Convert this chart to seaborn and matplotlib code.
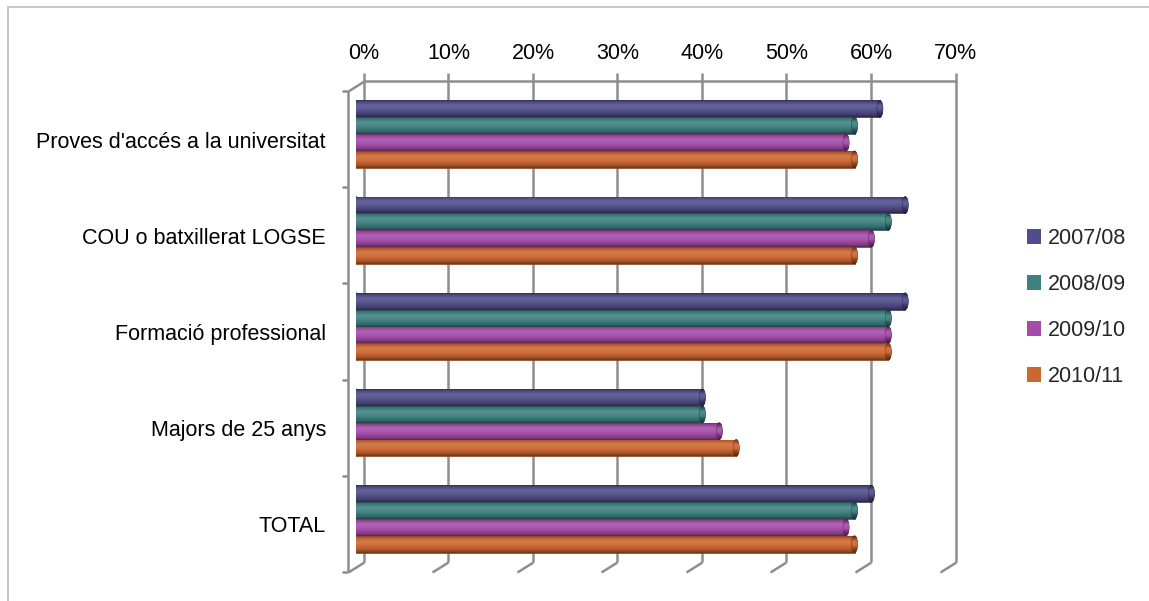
import numpy as np
import pandas as pd
import matplotlib
matplotlib.use("Agg")
import matplotlib.pyplot as plt
import seaborn as sns
from matplotlib import font_manager
from matplotlib.transforms import ScaledTranslation, blended_transform_factory
from matplotlib.patches import Ellipse, Rectangle, Patch
from matplotlib.path import Path
from matplotlib.colors import LinearSegmentedColormap, to_rgb
from matplotlib.markers import TICKLEFT

# ---- data -------------------------------------------------------------
categories = [
    "Proves d'accés a la universitat",
    "COU o batxillerat LOGSE",
    "Formació professional",
    "Majors de 25 anys",
    "TOTAL",
]
years = ["2007/08", "2008/09", "2009/10", "2010/11"]
v_2007_08 = [62, 65, 65, 41, 61]
v_2008_09 = [59, 63, 63, 41, 59]
v_2009_10 = [58, 61, 63, 43, 58]
v_2010_11 = [59, 59, 63, 45, 59]
x_ticks = [0, 10, 20, 30, 40, 50, 60, 70]
x_tick_labels = ["0%", "10%", "20%", "30%", "40%", "50%", "60%", "70%"]
colors = ["#514D8B", "#3E8080", "#A54BA8", "#CD6630"]

series = [v_2007_08, v_2008_09, v_2009_10, v_2010_11]
df = pd.DataFrame(
    [(c, y, v) for y, vals in zip(years, series) for c, v in zip(categories, vals)],
    columns=["categoria", "curs", "valor"],
)

# ---- fonts ------------------------------------------------------------
sns.set_theme(style="white")
available = {f.name for f in font_manager.fontManager.ttflist}
if "Liberation Sans Narrow" in available:
    family, fs = "Liberation Sans Narrow", 18.5
else:
    family, fs = "Liberation Sans", 15.5
plt.rcParams["font.family"] = [family, "DejaVu Sans"]

DPI = 100
W, H = 1149, 601
fig = plt.figure(figsize=(W / DPI, H / DPI), dpi=DPI)

# axes span the plane in which the cylinders sit (mid-depth of the 3D box)
ax_l, ax_r, ax_t, ax_b = 356, 947.5, 86, 567
ax = fig.add_axes([ax_l / W, (H - ax_b) / H, (ax_r - ax_l) / W, (ax_b - ax_t) / H])

sns.barplot(
    data=df, x="valor", y="categoria", hue="curs", orient="h",
    order=categories, hue_order=years, palette=colors, saturation=1,
    width=0.7, dodge=True, legend=False, ax=ax, linewidth=0, edgecolor="none",
    errorbar=None,
)
ax.set_xlim(0, 70)
ax.set_ylim(len(categories) - 0.5, -0.5)
ax.set_autoscale_on(False)
ax.set_axis_off()

px = 1 / DPI


def shift(dx, dy):
    return ScaledTranslation(dx * px, dy * px, fig.dpi_scale_trans)


back = shift(8, 5)
front = shift(-8, -5)
xb = blended_transform_factory(ax.transData, ax.transAxes)
yb = blended_transform_factory(ax.transAxes, ax.transData)

grid_color = "#8E8E8E"
grid_lw = 1.8
axes_h_px = ax_b - ax_t

# back wall: vertical gridlines (with small ticks above) and top edge
for v in x_ticks:
    ax.plot([v, v], [0, 1 + 8 / axes_h_px], transform=xb + back, color=grid_color,
            lw=grid_lw, clip_on=False, zorder=1, solid_capstyle="butt")
ax.plot([x_ticks[0], x_ticks[-1]], [1, 1], transform=xb + back, color=grid_color,
        lw=grid_lw, clip_on=False, zorder=1)

# floor diagonals and top-left corner diagonal
diag = Path([(8, 5), (-8, -5)], [Path.MOVETO, Path.LINETO])
ax.plot(x_ticks, [0] * len(x_ticks), transform=xb, linestyle="none", marker=diag,
        markersize=16 / 1.389, markeredgecolor=grid_color, markeredgewidth=grid_lw,
        clip_on=False, zorder=1)
ax.plot([0], [1], transform=xb, linestyle="none", marker=diag,
        markersize=16 / 1.389, markeredgecolor=grid_color, markeredgewidth=grid_lw,
        clip_on=False, zorder=1)

# left (front) wall edge with category separators
ax.plot([0, 0], [0, 1], transform=xb + front, color=grid_color, lw=grid_lw,
        clip_on=False, zorder=1, solid_capstyle="butt")
bounds = np.arange(len(categories) + 1) - 0.5
ax.plot(np.zeros_like(bounds), bounds, transform=ax.transData + front,
        linestyle="none", marker=TICKLEFT, markersize=6 / 1.389,
        markeredgecolor=grid_color, markeredgewidth=grid_lw, clip_on=False, zorder=1)


# ---- cylinder shading ---------------------------------------------------
def shade(color, f):
    r, g, b = to_rgb(color)
    if f >= 1:
        return tuple(min(1.0, c + (1 - c) * (f - 1)) for c in (r, g, b))
    return tuple(c * f for c in (r, g, b))


def cylinder_cmap(color, k=1.0):
    stops = [(0.0, 0.62), (0.10, 0.92), (0.32, 1.14), (0.55, 1.05),
             (0.80, 0.86), (0.93, 0.68), (1.0, 0.50)]
    return LinearSegmentedColormap.from_list(
        "cyl", [(p, shade(color, f * k if f < 1 else 1 + (f - 1) * k)) for p, f in stops])


grad = np.linspace(0, 1, 96).reshape(-1, 1)
cap_w = 6 / ((ax_r - ax_l) / 70)

for container, color in zip(ax.containers, colors):
    cmap = cylinder_cmap(color)
    cap_cmap = cylinder_cmap(color, 0.7)
    edge = shade(color, 0.6)
    for rect in container:
        x0, y0, w, h = rect.get_x(), rect.get_y(), rect.get_width(), rect.get_height()
        rect.set_zorder(3)
        rect.set_edgecolor(edge)
        rect.set_linewidth(0.5)
        im = ax.imshow(grad, cmap=cmap, extent=[x0, x0 + w, y0 + h, y0],
                       aspect="auto", interpolation="bilinear", zorder=3.1)
        im.set_clip_path(rect)
        # rounded base of the cylinder
        base = Ellipse((x0, y0 + h / 2), cap_w, h, facecolor=color, edgecolor=edge,
                       linewidth=0.5, zorder=2.9)
        ax.add_patch(base)
        imb = ax.imshow(grad, cmap=cmap, extent=[x0 - cap_w, x0 + cap_w, y0 + h, y0],
                        aspect="auto", interpolation="bilinear", zorder=2.95)
        imb.set_clip_path(base)
        # end cap
        cap = Ellipse((x0 + w, y0 + h / 2), cap_w, h, facecolor=edge, edgecolor=shade(color, 0.45),
                      linewidth=0.5, zorder=4)
        ax.add_patch(cap)
        imc = ax.imshow(grad, cmap=cap_cmap, extent=[x0 + w - cap_w, x0 + w + cap_w, y0 + h, y0],
                        aspect="auto", interpolation="bilinear", zorder=4.1)
        imc.set_clip_path(cap)

ax.set_xlim(0, 70)
ax.set_ylim(len(categories) - 0.5, -0.5)

# ---- text ---------------------------------------------------------------
for v, lab in zip(x_ticks, x_tick_labels):
    ax.text(v, 1, lab, transform=xb + shift(8, 27), ha="center", va="baseline",
            fontsize=fs, color="black", clip_on=False)

for i, cat in enumerate(categories):
    ax.text(0, i, cat, transform=yb + shift(-30, -8), ha="right", va="center",
            fontsize=fs, color="black", clip_on=False)

fs_px = fs * DPI / 72
handles = [Patch(facecolor=c, edgecolor="none", label=y) for c, y in zip(colors, years)]
fig.legend(handles=handles, loc="center left",
           bbox_to_anchor=(1027 / W, (H - 307.5) / H), bbox_transform=fig.transFigure,
           frameon=False, borderpad=0, borderaxespad=0,
           handlelength=14 / fs_px, handleheight=14 / fs_px,
           handletextpad=7 / fs_px, labelspacing=1.16, fontsize=fs)

# outer chart border
fig.patches.append(Rectangle((8 / W, -0.1), 1.2, 1.1 - 7 / H, transform=fig.transFigure,
                             fill=False, edgecolor="#BFBFBF", linewidth=1.2))

fig.savefig("out.png", dpi=DPI)
